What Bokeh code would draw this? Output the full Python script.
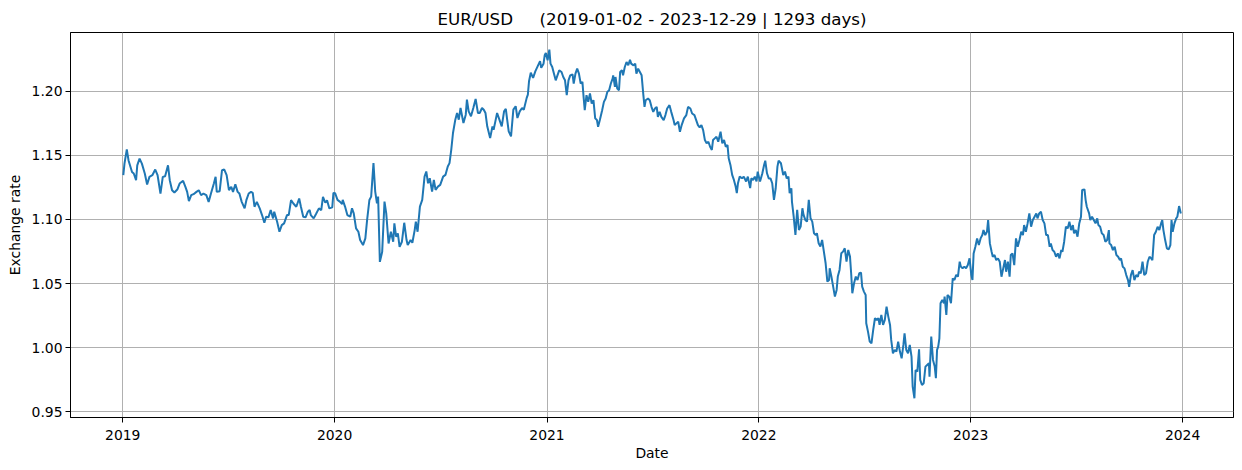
from datetime import datetime

import numpy as np
from bokeh.embed import file_html
from bokeh.models import (ColumnDataSource, DatetimeTickFormatter, FixedTicker,
                          PrintfTickFormatter, Range1d)
from bokeh.plotting import figure
from bokeh.resources import INLINE

# EUR/USD daily close (day of year, rate)
days_2019 = [1, 3, 7, 10, 16, 19, 23, 25, 29, 33, 38, 42, 46, 51, 56, 60, 65, 69, 73, 78,
             81, 85, 89, 94, 98, 104, 108, 111, 114, 118, 122, 127, 131, 135, 139, 144, 148,
             152, 157, 160, 162, 167, 171, 175, 179, 183, 187, 190, 194, 198, 201, 205, 210,
             213, 217, 221, 224, 227, 231, 236, 240, 244, 247, 251, 255, 259, 261, 266, 270,
             274, 278, 283, 286, 290, 294, 299, 304, 307, 311, 315, 319, 322, 324, 329, 333,
             338, 342, 345, 349, 352, 356, 361, 363]
rate_2019 = [1.1345, 1.1435, 1.1547, 1.1460, 1.1370, 1.1358, 1.1306, 1.1422, 1.1474, 1.1435,
             1.1358, 1.1272, 1.1332, 1.1345, 1.1389, 1.1345, 1.1202, 1.1332, 1.1337, 1.1422,
             1.1306, 1.1228, 1.1210, 1.1233, 1.1280, 1.1301, 1.1254, 1.1215, 1.1143, 1.1189,
             1.1197, 1.1215, 1.1228, 1.1189, 1.1202, 1.1189, 1.1137, 1.1202, 1.1280, 1.1332,
             1.1215, 1.1220, 1.1383, 1.1389, 1.1345, 1.1228, 1.1254, 1.1215, 1.1275, 1.1215,
             1.1202, 1.1137, 1.1086, 1.1150, 1.1202, 1.1215, 1.1207, 1.1099, 1.1137, 1.1086,
             1.1034, 1.0974, 1.1021, 1.1016, 1.1073, 1.1008, 1.1060, 1.0982, 1.0904, 1.0956,
             1.0969, 1.1034, 1.1034, 1.1150, 1.1124, 1.1099, 1.1163, 1.1099, 1.1021, 1.1016,
             1.1060, 1.1073, 1.1034, 1.1008, 1.1042, 1.1086, 1.1073, 1.1176, 1.1130, 1.1150,
             1.1086, 1.1094, 1.1207]

days_2020 = [1, 5, 9, 13, 14, 18, 22, 27, 30, 33, 37, 41, 44, 49, 53, 56, 60, 63, 67, 70,
             73, 75, 78, 82, 86, 89, 93, 97, 101, 103, 106, 109, 112, 116, 120, 124, 126, 131,
             134, 138, 140, 143, 147, 151, 155, 158, 161, 164, 168, 171, 174, 178, 182, 187,
             191, 195, 198, 201, 204, 208, 211, 214, 217, 222, 226, 228, 231, 235, 239, 243,
             247, 250, 254, 257, 260, 263, 268, 272, 274, 277, 280, 285, 288, 292, 295, 297,
             300, 304, 308, 312, 315, 319, 323, 326, 331, 333, 335, 338, 342, 346, 350, 354,
             356, 360, 362, 364]
rate_2020 = [1.1204, 1.1152, 1.1139, 1.1120, 1.1152, 1.1100, 1.1034, 1.1021, 1.1087, 1.1047,
             1.0930, 1.0904, 1.0839, 1.0800, 1.0852, 1.0995, 1.1152, 1.1178, 1.1439, 1.1217,
             1.1126, 1.1178, 1.0669, 1.0747, 1.1139, 1.1047, 1.0812, 1.0904, 1.0826, 1.0969,
             1.0865, 1.0891, 1.0786, 1.0826, 1.0974, 1.0839, 1.0800, 1.0839, 1.0818, 1.0917,
             1.0982, 1.0904, 1.1100, 1.1152, 1.1334, 1.1374, 1.1282, 1.1321, 1.1217, 1.1308,
             1.1230, 1.1256, 1.1269, 1.1334, 1.1347, 1.1413, 1.1439, 1.1543, 1.1674, 1.1778,
             1.1830, 1.1778, 1.1869, 1.1752, 1.1817, 1.1935, 1.1843, 1.1804, 1.1869, 1.1940,
             1.1830, 1.1830, 1.1869, 1.1856, 1.1830, 1.1726, 1.1635, 1.1726, 1.1700, 1.1765,
             1.1830, 1.1765, 1.1726, 1.1843, 1.1862, 1.1791, 1.1687, 1.1648, 1.1856, 1.1883,
             1.1791, 1.1843, 1.1869, 1.1856, 1.1948, 1.1974, 1.2078, 1.2144, 1.2104, 1.2157,
             1.2196, 1.2235, 1.2183, 1.2215, 1.2280, 1.2298]

days_2021 = [1, 4, 6, 9, 12, 15, 18, 21, 25, 28, 31, 34, 37, 40, 44, 46, 49, 52, 55, 58,
             61, 63, 65, 68, 71, 74, 77, 80, 83, 86, 88, 91, 95, 98, 101, 104, 107, 110, 113,
             114, 117, 118, 121, 124, 126, 129, 131, 134, 137, 140, 143, 145, 149, 152, 154,
             157, 160, 163, 166, 168, 170, 174, 177, 180, 183, 186, 189, 191, 194, 197, 201,
             204, 207, 211, 214, 218, 220, 223, 226, 229, 232, 236, 240, 243, 247, 250, 254,
             257, 260, 263, 266, 269, 272, 275, 278, 281, 284, 286, 289, 292, 295, 299, 302,
             305, 308, 311, 313, 316, 319, 322, 325, 327, 329, 332, 336, 339, 343, 346, 350,
             352, 355, 358, 361, 363]
rate_2021 = [1.2241, 1.2324, 1.2215, 1.2189, 1.2137, 1.2085, 1.2124, 1.2163, 1.2150, 1.2111,
             1.2085, 1.1969, 1.2085, 1.2124, 1.2132, 1.2060, 1.2137, 1.2176, 1.2137, 1.2060,
             1.2073, 1.1956, 1.1852, 1.1969, 1.1917, 1.1982, 1.1904, 1.1930, 1.1788, 1.1775,
             1.1723, 1.1775, 1.1852, 1.1917, 1.1943, 1.1995, 1.2008, 1.2060, 1.2098, 1.2124,
             1.2034, 1.2111, 1.2021, 1.2008, 1.2150, 1.2163, 1.2124, 1.2189, 1.2228, 1.2202,
             1.2246, 1.2215, 1.2202, 1.2215, 1.2137, 1.2176, 1.2150, 1.2124, 1.1969, 1.1878,
             1.1930, 1.1943, 1.1930, 1.1878, 1.1839, 1.1865, 1.1878, 1.1800, 1.1839, 1.1800,
             1.1775, 1.1814, 1.1865, 1.1891, 1.1839, 1.1775, 1.1736, 1.1749, 1.1762, 1.1684,
             1.1736, 1.1788, 1.1814, 1.1878, 1.1865, 1.1826, 1.1814, 1.1775, 1.1736, 1.1718,
             1.1736, 1.1697, 1.1619, 1.1593, 1.1606, 1.1567, 1.1542, 1.1619, 1.1632, 1.1645,
             1.1606, 1.1684, 1.1593, 1.1619, 1.1567, 1.1580, 1.1477, 1.1425, 1.1347, 1.1308,
             1.1257, 1.1205, 1.1283, 1.1334, 1.1321, 1.1334, 1.1296, 1.1334, 1.1244, 1.1321,
             1.1308, 1.1334, 1.1296, 1.1373]

days_2022 = [2, 6, 9, 11, 14, 17, 20, 23, 26, 29, 32, 34, 38, 42, 45, 48, 51, 53, 56, 57,
             60, 63, 66, 69, 72, 75, 77, 80, 83, 86, 89, 92, 95, 98, 100, 103, 106, 109, 112,
             115, 118, 121, 122, 125, 128, 131, 134, 136, 139, 142, 145, 148, 151, 154, 157,
             159, 161, 164, 167, 170, 173, 176, 178, 181, 184, 185, 188, 191, 194, 197, 200,
             203, 206, 208, 211, 214, 217, 220, 223, 226, 228, 231, 234, 237, 240, 243, 246,
             249, 251, 254, 257, 260, 263, 265, 268, 270, 273, 276, 278, 281, 284, 287, 290,
             293, 294, 297, 300, 303, 305, 307, 309, 311, 313, 316, 319, 320, 323, 325, 328,
             331, 334, 337, 340, 343, 346, 348, 351, 354, 357, 360, 363]
rate_2022 = [1.1295, 1.1360, 1.1425, 1.1458, 1.1360, 1.1320, 1.1320, 1.1282, 1.1152, 1.1243,
             1.1412, 1.1458, 1.1438, 1.1347, 1.1373, 1.1320, 1.1334, 1.1204, 1.1243, 1.1139,
             1.1022, 1.0879, 1.1074, 1.0918, 1.0944, 1.1087, 1.1035, 1.0996, 1.0983, 1.1152,
             1.1009, 1.0983, 1.0892, 1.0879, 1.0892, 1.0814, 1.0788, 1.0840, 1.0749, 1.0658,
             1.0515, 1.0528, 1.0619, 1.0554, 1.0476, 1.0398, 1.0450, 1.0554, 1.0606, 1.0736,
             1.0749, 1.0775, 1.0671, 1.0762, 1.0710, 1.0580, 1.0424, 1.0502, 1.0554, 1.0528,
             1.0580, 1.0585, 1.0476, 1.0437, 1.0411, 1.0190, 1.0125, 1.0047, 1.0034, 1.0138,
             1.0229, 1.0216, 1.0229, 1.0177, 1.0255, 1.0177, 1.0216, 1.0320, 1.0242, 1.0177,
             1.0060, 0.9956, 0.9982, 0.9969, 1.0047, 0.9969, 0.9917, 1.0021, 1.0112, 0.9982,
             0.9956, 1.0021, 0.9930, 0.9696, 0.9605, 0.9826, 0.9813, 0.9987, 0.9748, 0.9709,
             0.9722, 0.9852, 0.9865, 0.9878, 0.9774, 1.0086, 0.9904, 0.9852, 0.9761, 0.9982,
             1.0008, 1.0073, 1.0346, 1.0372, 1.0346, 1.0398, 1.0255, 1.0411, 1.0398, 1.0346,
             1.0540, 1.0528, 1.0567, 1.0554, 1.0671, 1.0632, 1.0619, 1.0632, 1.0619, 1.0645,
             1.0697]

days_2023 = [1, 3, 5, 8, 11, 14, 17, 20, 22, 25, 28, 30, 33, 36, 38, 41, 44, 47, 50, 53,
             56, 59, 61, 64, 67, 69, 72, 75, 78, 81, 84, 87, 90, 92, 95, 98, 101, 104, 107,
             110, 113, 115, 118, 121, 124, 127, 130, 133, 136, 138, 141, 144, 147, 150, 153,
             156, 158, 161, 164, 167, 170, 173, 176, 178, 181, 184, 187, 190, 192, 196, 198,
             200, 204, 206, 209, 212, 215, 218, 220, 223, 226, 229, 232, 235, 238, 239, 242,
             245, 248, 251, 254, 257, 259, 262, 265, 268, 271, 273, 276, 279, 282, 285, 288,
             290, 293, 296, 299, 302, 305, 308, 311, 313, 316, 319, 322, 325, 328, 330, 332,
             335, 338, 341, 344, 346, 348, 351, 354, 356, 359, 362]
rate_2023 = [1.0566, 1.0527, 1.0735, 1.0787, 1.0852, 1.0800, 1.0852, 1.0878, 1.0917, 1.0878,
             1.0904, 1.0995, 1.0813, 1.0748, 1.0709, 1.0722, 1.0683, 1.0696, 1.0670, 1.0553,
             1.0618, 1.0683, 1.0592, 1.0670, 1.0553, 1.0722, 1.0735, 1.0644, 1.0852, 1.0787,
             1.0839, 1.0904, 1.0878, 1.0956, 1.0904, 1.0969, 1.1047, 1.0943, 1.0995, 1.1021,
             1.1047, 1.1008, 1.1047, 1.1060, 1.0995, 1.0969, 1.0878, 1.0878, 1.0787, 1.0813,
             1.0761, 1.0748, 1.0709, 1.0735, 1.0696, 1.0761, 1.0748, 1.0826, 1.0943, 1.0930,
             1.0982, 1.0917, 1.0956, 1.0891, 1.0917, 1.0865, 1.0969, 1.1021, 1.1229, 1.1234,
             1.1151, 1.1099, 1.1047, 1.0995, 1.1021, 1.0995, 1.0969, 1.1008, 1.0956, 1.0943,
             1.0891, 1.0878, 1.0826, 1.0839, 1.0917, 1.0813, 1.0800, 1.0761, 1.0787, 1.0722,
             1.0709, 1.0683, 1.0696, 1.0631, 1.0618, 1.0566, 1.0527, 1.0475, 1.0566, 1.0605,
             1.0527, 1.0566, 1.0553, 1.0592, 1.0579, 1.0670, 1.0566, 1.0579, 1.0670, 1.0709,
             1.0696, 1.0683, 1.0878, 1.0904, 1.0943, 1.0917, 1.0969, 1.0995, 1.0917, 1.0839,
             1.0774, 1.0766, 1.0800, 1.0995, 1.0904, 1.0969, 1.1008, 1.1021, 1.1104, 1.1047]

years = [2019, 2020, 2021, 2022, 2023]
year_days = [days_2019, days_2020, days_2021, days_2022, days_2023]
year_rates = [rate_2019, rate_2020, rate_2021, rate_2022, rate_2023]

dates = np.concatenate([np.datetime64(f"{y}-01-01") + np.array(d, dtype="timedelta64[D]")
                        for y, d in zip(years, year_days)])
rates = np.concatenate([np.array(r) for r in year_rates])
source = ColumnDataSource(data=dict(date=dates, rate=rates))

FONT = "DejaVu Sans"
GAP = "\u00a0" * 5  # matplotlib keeps the run of spaces in the title

p = figure(
    title=f"EUR/USD{GAP}(2019-01-02 - 2023-12-29 | 1293 days)",
    x_axis_type="datetime",
    frame_width=1163,
    frame_height=385,
    min_border_left=70,
    min_border_right=1,
    min_border_top=32,
    min_border_bottom=40,
    x_range=Range1d(datetime(2018, 10, 3), datetime(2024, 3, 28, 18)),
    y_range=Range1d(0.9455, 1.2458),
    output_backend="svg",
    toolbar_location=None,
)

p.line("date", "rate", source=source, line_color="#1f77b4", line_width=2)

# title
p.title.text_font = FONT
p.title.text_font_size = "16.7px"
p.title.text_font_style = "normal"
p.title.text_color = "black"
p.title.align = "center"
p.title.standoff = 7

# axes
year_ticks = [datetime(y, 1, 1).timestamp() * 1000 for y in range(2019, 2025)]
p.xaxis.ticker = FixedTicker(ticks=year_ticks)
p.xaxis.formatter = DatetimeTickFormatter(years="%Y", months="%Y", days="%Y",
                                          hours="%Y", minutes="%Y")
p.yaxis.ticker = FixedTicker(ticks=[0.95, 1.00, 1.05, 1.10, 1.15, 1.20])
p.yaxis.formatter = PrintfTickFormatter(format="%.2f")
p.xaxis.axis_label = "Date"
p.yaxis.axis_label = "Exchange rate"

for ax in p.axis:
    ax.axis_label_text_font = FONT
    ax.axis_label_text_font_size = "13.9px"
    ax.axis_label_text_font_style = "normal"
    ax.axis_label_text_color = "black"
    ax.major_label_text_font = FONT
    ax.major_label_text_font_size = "13.9px"
    ax.major_label_text_color = "black"
    ax.axis_line_color = "black"
    ax.major_tick_line_color = "black"
    ax.major_tick_in = 0
    ax.major_tick_out = 5
    ax.minor_tick_line_color = None
    ax.major_label_standoff = 3
    ax.axis_label_standoff = 6

p.xaxis.major_label_standoff = 7
p.xaxis.axis_label_standoff = 2

p.grid.grid_line_color = "#b0b0b0"
p.grid.grid_line_width = 1
p.outline_line_color = "black"
p.outline_line_width = 1
p.outline_line_alpha = 1

open("out.html", "w").write(file_html(p, INLINE))
